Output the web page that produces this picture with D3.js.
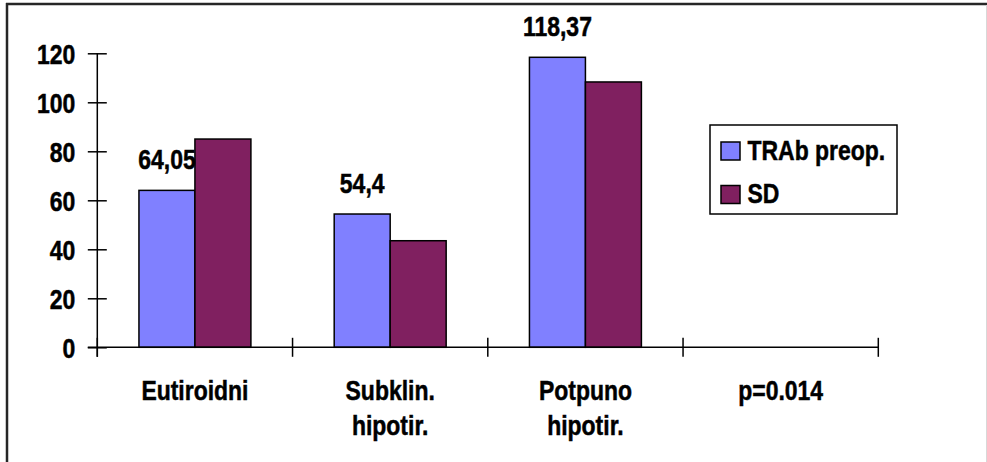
<!DOCTYPE html>
<html><head><meta charset="utf-8">
<script src="https://cdn.jsdelivr.net/npm/d3@7"></script>
<style>
html,body{margin:0;padding:0;background:#fff;}
svg text{font-family:"Liberation Sans",Arial,sans-serif;font-weight:bold;fill:#000;stroke:#000;stroke-width:0.5px;}
</style></head>
<body>
<svg id="c" width="987" height="462"></svg>
<script>
const categories = [["Eutiroidni"], ["Subklin.", "hipotir."], ["Potpuno", "hipotir."], ["p=0.014"]];
const seriesNames = ["TRAb preop.", "SD"];
const trab = [64.05, 54.4, 118.37, null];
const sd = [85, 43.5, 108.3, null];
const yTicks = [0, 20, 40, 60, 80, 100, 120];
const colors = ["#8080FF", "#802060"];

const svg = d3.select("#c");
const W = 987, H = 462;
const fs = 28, sx = 0.82;

// narrow bold text helper (Arial Narrow look)
function label(parent, x, y, str, anchor) {
  const g = parent.append("g").attr("transform", `translate(${x},${y}) scale(${sx},1)`);
  return g.append("text").attr("x", 0).attr("y", 0).attr("text-anchor", anchor || "start")
    .attr("font-size", fs).text(str);
}

// outer frame
svg.append("line").attr("x1",6).attr("x2",W).attr("y1",4).attr("y2",4).attr("stroke","#262626").attr("stroke-width",2.5);
svg.append("line").attr("x1",7).attr("x2",7).attr("y1",3).attr("y2",H).attr("stroke","#262626").attr("stroke-width",2.5);
svg.append("line").attr("x1",986.5).attr("x2",986.5).attr("y1",5).attr("y2",H).attr("stroke","#d8d8d8").attr("stroke-width",1);

const x0 = 97.3, x1 = 878.3, yTop = 53.3, yBot = 347.3;
const x = d3.scaleBand().domain(d3.range(categories.length)).range([x0, x1]).paddingInner(0).paddingOuter(0);
const y = d3.scaleLinear().domain([0, 120]).range([yBot, yTop]);
const inner = d3.scaleBand().domain([0, 1]).range([0, x.bandwidth()]).paddingOuter(0.744).paddingInner(0);

// bars
const series = [trab, sd];
series.forEach((vals, si) => {
  svg.append("g").selectAll("rect").data(vals.map((v, i) => ({v, i})).filter(d => d.v != null))
    .join("rect")
    .attr("x", d => x(d.i) + inner(si))
    .attr("width", inner.bandwidth())
    .attr("y", d => y(d.v))
    .attr("height", d => y(0) - y(d.v))
    .attr("fill", colors[si])
    .attr("stroke", "#000").attr("stroke-width", 1.5);
});

// data labels (first series)
const dl = svg.append("g");
trab.forEach((v, i) => {
  if (v == null) return;
  label(dl, x(i) + inner(0) + inner.bandwidth() / 2, y(v) - 21, String(v).replace(".", ","), "middle");
});

// y axis
const yAxis = d3.axisLeft(y).tickValues(yTicks).tickSize(0).tickPadding(0);
const gy = svg.append("g").attr("transform", `translate(${x0},0)`).call(yAxis);
gy.select(".domain").remove();
gy.selectAll("text").remove();
svg.append("line").attr("x1", x0).attr("x2", x0).attr("y1", yTop).attr("y2", yBot + 9.5).attr("stroke", "#000").attr("stroke-width", 1.5);
gy.selectAll(".tick").append("line").attr("x1", -9.5).attr("x2", 9.5).attr("stroke", "#000").attr("stroke-width", 1.5);
gy.selectAll(".tick").each(function(d) {
  label(d3.select(this), -22, 10, d, "end");
});

// x axis
svg.append("line").attr("x1", x0 - 9.5).attr("x2", x1).attr("y1", yBot).attr("y2", yBot).attr("stroke", "#000").attr("stroke-width", 1.5);
const xTickPos = d3.range(categories.length + 1).map(i => i < categories.length ? x(i) : x(i - 1) + x.bandwidth());
svg.append("g").selectAll("line").data(xTickPos).join("line")
  .attr("x1", d => d).attr("x2", d => d).attr("y1", yBot - 9.5).attr("y2", yBot + 9.5)
  .attr("stroke", "#000").attr("stroke-width", 1.5);
const xl = svg.append("g");
categories.forEach((lines, i) => {
  lines.forEach((ln, j) => {
    label(xl, x(i) + x.bandwidth() / 2, 399.5 + j * 35, ln, "middle");
  });
});

// legend
const lg = svg.append("g");
lg.append("rect").attr("x", 710).attr("y", 125).attr("width", 187).attr("height", 89)
  .attr("fill", "#fff").attr("stroke", "#000").attr("stroke-width", 1.5);
seriesNames.forEach((n, i) => {
  const yy = 142 + i * 43.5;
  lg.append("rect").attr("x", 721).attr("y", yy).attr("width", 19).attr("height", 18)
    .attr("fill", colors[i]).attr("stroke", "#000").attr("stroke-width", 1.5);
  label(lg, 747.5, yy + 17.5, n, "start");
});
</script>
</body></html>
